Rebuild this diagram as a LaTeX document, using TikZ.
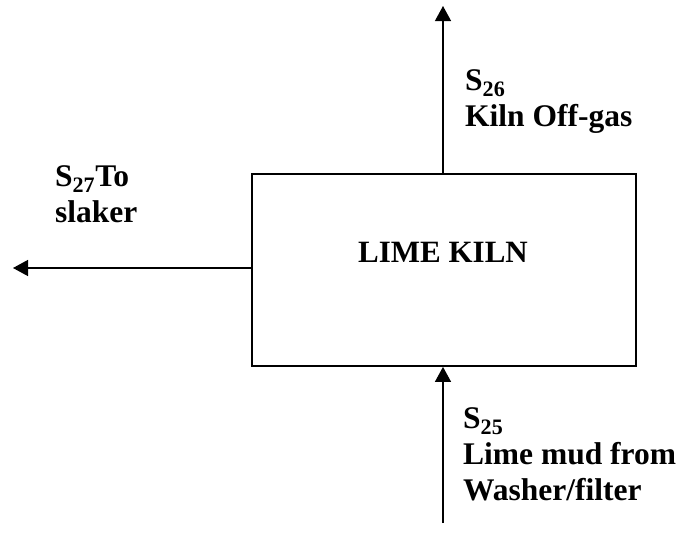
\documentclass[tikz,border=0pt]{standalone}
\usepackage{fontspec}
\setmainfont{Liberation Serif}
\usetikzlibrary{arrows.meta}
\tikzset{
  boxstyle/.style={draw, line width=1.8pt, minimum width=384pt, minimum height=192pt, inner sep=0pt},
  arr/.style={line width=1.3pt, -{Triangle[length=15pt,width=16pt]}},
  lbl/.style={anchor=north west, inner sep=0pt, align=left, font=\bfseries\fontsize{31.5}{36}\selectfont},
  ttl/.style={anchor=base, inner sep=0pt, font=\bfseries\fontsize{31}{36}\selectfont}
}
\begin{document}
\begin{tikzpicture}[x=1pt,y=-1pt]
\useasboundingbox (0,0) rectangle (684,533);
\node[boxstyle] (kiln) at (444,270) {};
\node[ttl] (title) at (443,262) {LIME KILN};
\coordinate (outtop) at (443,6);
\coordinate (outleft) at (13,268);
\coordinate (inbot) at (443,523);
\draw[arr] (outtop |- kiln.north) -- (outtop);
\draw[arr] (kiln.west |- outleft) -- (outleft);
\draw[arr] (inbot) -- (inbot |- kiln.south);
\node[lbl] (s26) at (465,69) {S\textsubscript{26}\\Kiln Off-gas};
\node[lbl] (s27) at (55,165) {S\textsubscript{27}To\\slaker};
\node[lbl] (s25) at (463,407) {S\textsubscript{25}\\Lime mud from\\Washer/filter};
\end{tikzpicture}
\end{document}
